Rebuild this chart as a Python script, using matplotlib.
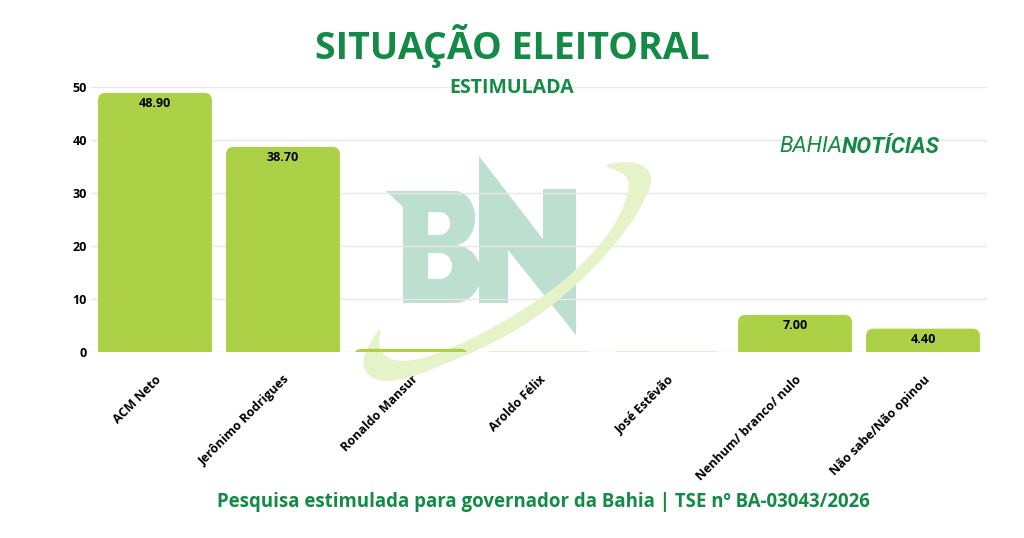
import numpy as np
import matplotlib
matplotlib.use("Agg")
import matplotlib.pyplot as plt
from matplotlib.patches import FancyBboxPatch, Polygon, PathPatch
from matplotlib.path import Path
from matplotlib.transforms import Affine2D

# dados
candidatos = ['ACM Neto', 'Jerônimo Rodrigues', 'Ronaldo Mansur', 'Aroldo Félix',
              'José Estêvão', 'Nenhum/ branco/ nulo', 'Não sabe/Não opinou']
valores = [48.9, 38.7, 0.6, 0.05, 0.05, 7.0, 4.4]
rotulos = ['48.90', '38.70', '', '', '', '7.00', '4.40']
yticks = [0, 10, 20, 30, 40, 50]

verde_barra = '#acd046'
verde_texto = '#138a45'

plt.rcParams['font.family'] = ['Open Sans', 'DejaVu Sans']

W, H = 1024, 538
fig = plt.figure(figsize=(W / 100, H / 100), dpi=100)
fig.patch.set_facecolor('white')

# posição do gráfico em pixels
L, R, T, B = 91, 987, 87, 352
ax = fig.add_axes([L / W, 1 - B / H, (R - L) / W, (B - T) / H])
ax.set_facecolor('none')

x = np.arange(len(candidatos))
bars = ax.bar(x, valores, width=0.89, color=verde_barra, zorder=2)

# troca os retângulos por barras com cantos superiores arredondados
for b in bars:
    b.set_visible(False)
    x0, w, h = b.get_x(), b.get_width(), b.get_height()
    p = FancyBboxPatch((x0, -3), w, h + 3,
                       boxstyle='round,pad=0,rounding_size=0.06',
                       mutation_aspect=24, facecolor=verde_barra,
                       edgecolor='none', zorder=2)
    ax.add_patch(p)

for xi, v, r in zip(x, valores, rotulos):
    if r:
        ax.annotate(r, (xi, v), xytext=(0, -3), textcoords='offset points',
                    ha='center', va='top', fontsize=9, fontweight='bold',
                    color='black', zorder=3)

ax.set_xlim(-0.5, len(candidatos) - 0.5)
ax.set_ylim(0, 50)
ax.set_yticks(yticks)
ax.set_yticklabels([str(t) for t in yticks], fontsize=9, fontweight='bold')
ax.set_xticks(x)
ax.set_xticklabels(candidatos, rotation=45, ha='right', va='top',
                   rotation_mode='anchor', fontsize=9, fontweight='bold')
ax.tick_params(axis='x', length=0, pad=15)
ax.tick_params(axis='y', length=0, pad=3)
for s in ax.spines.values():
    s.set_visible(False)
ax.set_axisbelow(True)
ax.grid(axis='y', color='#e8e8e8', linewidth=1, zorder=0.5)

# marca d'água (coordenadas em pixels da imagem)
px = Affine2D().scale(1 / W, -1 / H).translate(0, 1) + fig.transFigure


def chaikin(pts, n=4):
    pts = np.asarray(pts, float)
    for _ in range(n):
        p0 = pts
        p1 = np.roll(pts, -1, axis=0)
        q = 0.75 * p0 + 0.25 * p1
        r = 0.25 * p0 + 0.75 * p1
        pts = np.empty((2 * len(p0), 2))
        pts[0::2] = q
        pts[1::2] = r
    return pts


# swoosh
swoosh = [(382, 325), (370, 342), (362, 362), (368, 377), (385, 382), (410, 378),
          (445, 364), (490, 345), (530, 322), (565, 295), (600, 262), (628, 228),
          (645, 200), (653, 180), (646, 166), (628, 161), (600, 165),
          (622, 172), (630, 182), (626, 202), (612, 230), (585, 262), (550, 292),
          (510, 318), (470, 340), (430, 357), (400, 362), (385, 357), (378, 345)]
ax.add_patch(Polygon(chaikin(swoosh), closed=True, facecolor='#e6f2c8',
                     edgecolor='none', transform=px, clip_on=False, zorder=1))

# N
n_pts = [(479, 156), (543, 239), (543, 189), (576, 189), (576, 335),
         (508, 250), (508, 303), (479, 303)]
ax.add_patch(Polygon(n_pts, closed=True, facecolor='#bddfcf', edgecolor='none',
                     transform=px, clip_on=False, zorder=0.3))


# B
def arco(cx, cy, rx, ry, t0, t1, n=30):
    tt = np.linspace(t0, t1, n)
    return list(zip(cx + rx * np.cos(tt), cy + ry * np.sin(tt)))


outer_b = [(386, 191), (455, 191)]
outer_b += arco(455, 218, 20, 27, -np.pi / 2, np.pi / 2)[1:]
outer_b += arco(455, 274, 26, 29, -np.pi / 2, np.pi / 2)[1:]
outer_b += [(403, 303), (403, 207)]
hole1 = [(428, 212), (440, 212)] + arco(440, 223.5, 10, 11.5, -np.pi / 2, np.pi / 2)[1:] + [(428, 235)]
hole2 = [(428, 253), (440, 253)] + arco(440, 266, 12, 13, -np.pi / 2, np.pi / 2)[1:] + [(428, 279)]
verts, codes = [], []
for poly, inv in [(outer_b, False), (hole1, True), (hole2, True)]:
    pp = poly[::-1] if inv else poly
    verts += pp + [pp[0]]
    codes += [Path.MOVETO] + [Path.LINETO] * (len(pp) - 1) + [Path.CLOSEPOLY]
ax.add_patch(PathPatch(Path(verts, codes), facecolor='#bddfcf', edgecolor='none',
                       transform=px, clip_on=False, zorder=0.3))

# textos
fig.text(0.5, 1 - 46 / H, 'SITUAÇÃO ELEITORAL', ha='center', va='center',
         fontsize=27, fontweight='bold', color=verde_texto)
fig.text(0.5, 1 - 88 / H, 'ESTIMULADA', ha='center', va='center',
         fontsize=14, fontweight='bold', color=verde_texto)
fig.text(543 / W, 1 - 502 / H,
         'Pesquisa estimulada para governador da Bahia | TSE nº BA-03043/2026',
         ha='center', va='center', fontsize=13.4, fontweight='bold', color=verde_texto)

# logo
t1 = fig.text(779 / W, 1 - 147 / H, 'BAHIA', ha='left', va='center', fontsize=16,
              fontstyle='italic', fontweight='normal', color=verde_texto,
              family=['Roboto', 'DejaVu Sans'])
fig.canvas.draw()
bb = t1.get_window_extent()
fig.text(bb.x1 / W, 1 - 147 / H, 'NOTÍCIAS', ha='left', va='center', fontsize=16,
         fontstyle='italic', fontweight='bold', color=verde_texto,
         family=['Roboto', 'DejaVu Sans'])

fig.savefig('out.png', dpi=100, facecolor='white')
